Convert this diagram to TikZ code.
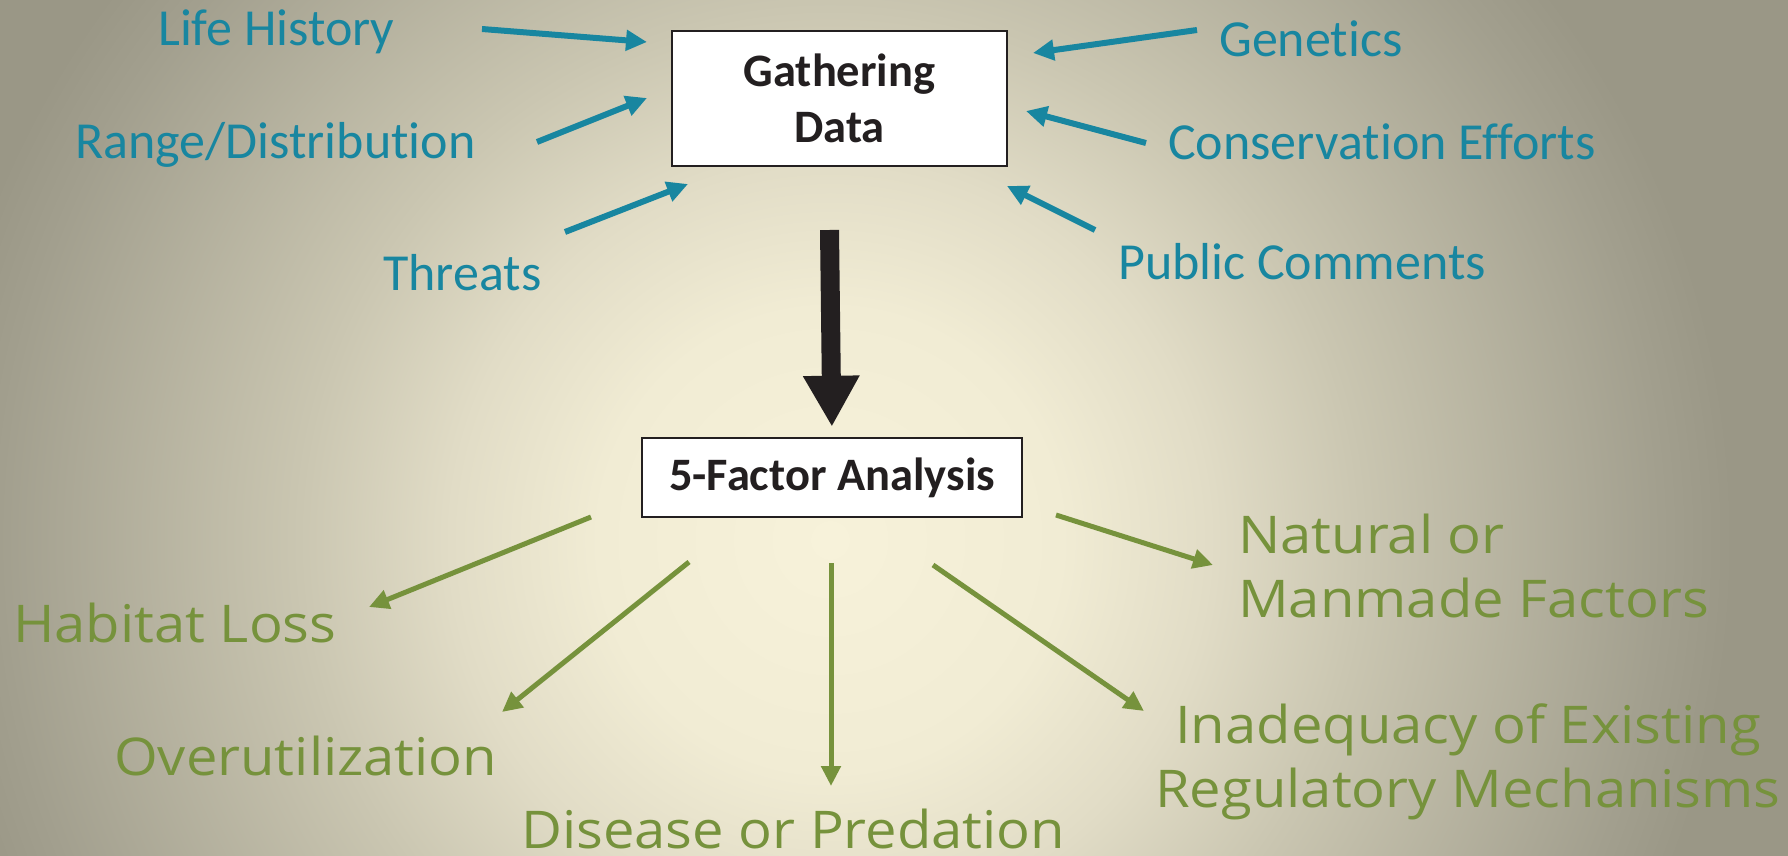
\documentclass[tikz,border=0pt]{standalone}
\usepackage{fontspec}
\setmainfont{Carlito}[Ligatures=NoCommon]
\newfontfamily\greenfont{Open Sans}[FakeStretch=1.08]
\usetikzlibrary{arrows.meta}
\definecolor{tealtxt}{RGB}{24,134,160}
\definecolor{olivetxt}{RGB}{118,146,60}
\definecolor{ink}{HTML}{231F20}
\definecolor{bg0}{RGB}{247,242,218}
\definecolor{bg1}{RGB}{241,236,212}
\definecolor{bg2}{RGB}{225,220,198}
\definecolor{bg3}{RGB}{202,198,177}
\definecolor{bg4}{RGB}{162,159,142}
\definecolor{bg5}{RGB}{154,151,134}
\pgfdeclareradialshading{bgshade}{\pgfpoint{0bp}{0bp}}{color(0bp)=(bg0); color(12.8bp)=(bg1); color(21bp)=(bg2); color(29.4bp)=(bg3); color(46bp)=(bg4); color(50bp)=(bg5); color(100bp)=(bg5)}
\tikzset{
  bluelabel/.style={font=\fontsize{52}{60}\selectfont, text=tealtxt, inner sep=0pt, anchor=base west},
  greenlabel/.style={font=\greenfont\fontsize{52}{64}\selectfont, text=olivetxt, inner sep=0pt},
  databox/.style={draw=ink, line width=2.5pt, fill=white, font=\bfseries\fontsize{46.5}{56}\selectfont, text=ink, inner sep=0pt, align=center},
  bluearrow/.style={draw=tealtxt, line width=6pt, -{Triangle[length=21pt,width=20pt]}},
  greenarrow/.style={draw=olivetxt, line width=5pt, -{Triangle[length=20pt,width=19pt]}},
  bigarrow/.style={draw=ink, line width=19pt, -{Triangle[length=51pt,width=53pt]}}
}
\begin{document}
\begin{tikzpicture}[x=1pt,y=-1pt]
\useasboundingbox (0,0) rectangle (1788,856);
\fill[bg5] (0,0) rectangle (1788,856);
\begin{scope}
\clip (0,0) rectangle (1788,856);
\pgftransformshift{\pgfpoint{830pt}{-540pt}}
\pgftransformscale{18}
\pgflowlevelsynccm
\pgfuseshading{bgshade}
\end{scope}

% boxes
\node[databox, minimum width=335pt, minimum height=135pt] (gd) at (839.5,98.5) {Gathering\\Data};
\node[databox, minimum width=380pt, minimum height=79pt] (fa) at (832,477.5) {5-Factor Analysis};

% blue labels
\node[bluelabel] (lh) at (158,46) {Life History};
\node[bluelabel] (rd) at (75,158) {Range/Distribution};
\node[bluelabel] (th) at (383,290) {Threats};
\node[bluelabel] (ge) at (1219,57) {Genetics};
\node[bluelabel] (ce) at (1168,159) {Conservation Efforts};
\node[bluelabel] (pc) at (1118,279) {Public Comments};

% green labels
\node[greenlabel, anchor=base west] (hl) at (13,642) {Habitat Loss};
\node[greenlabel, anchor=base west] (ov) at (114,775) {Overutilization};
\node[greenlabel, anchor=base west] (dp) at (521,848) {Disease or Predation};
\node[greenlabel, anchor=base west, align=left] (nm) at (1238,617) {Natural or\\Manmade Factors};
\node[greenlabel, anchor=base, align=center] (ir) at (1468,807) {Inadequacy of Existing\\Regulatory Mechanisms};

% arrow end points
\coordinate (lhA) at (482,29);   \coordinate (lhB) at (647,42);
\coordinate (rdA) at (537,142);  \coordinate (rdB) at (647,98);
\coordinate (thA) at (565,232);  \coordinate (thB) at (688,184);
\coordinate (geA) at (1197,30);  \coordinate (geB) at (1033,53);
\coordinate (ceA) at (1146,143); \coordinate (ceB) at (1026,111);
\coordinate (pcA) at (1095,230); \coordinate (pcB) at (1007,186);
\coordinate (bigA) at (829.5,230);
\coordinate (hlA) at (591,517);  \coordinate (hlB) at (369,607);
\coordinate (ovA) at (689,562);  \coordinate (ovB) at (502,712);
\coordinate (dpA) at (831,563);  \coordinate (dpB) at (831,786);
\coordinate (nmA) at (1056,515); \coordinate (nmB) at (1213,565);
\coordinate (irA) at (933,565);  \coordinate (irB) at (1144,711);

\draw[bluearrow] (lhA) -- (lhB);
\draw[bluearrow] (rdA) -- (rdB);
\draw[bluearrow] (thA) -- (thB);
\draw[bluearrow] (geA) -- (geB);
\draw[bluearrow] (ceA) -- (ceB);
\draw[bluearrow] (pcA) -- (pcB);

\draw[bigarrow, shorten >=10pt] (bigA) -- (fa.north);

\draw[greenarrow] (hlA) -- (hlB);
\draw[greenarrow] (ovA) -- (ovB);
\draw[greenarrow] (dpA) -- (dpB);
\draw[greenarrow] (nmA) -- (nmB);
\draw[greenarrow] (irA) -- (irB);
\end{tikzpicture}
\end{document}
